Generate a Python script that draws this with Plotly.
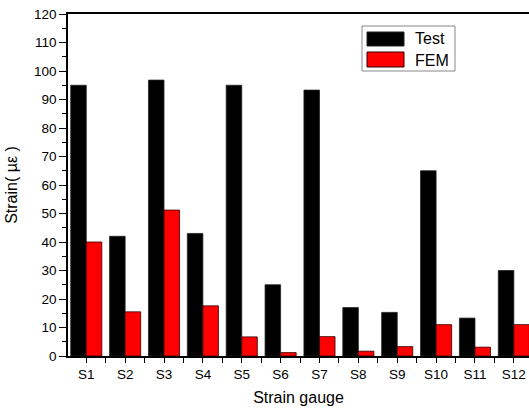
import plotly.graph_objects as go

categories = ["S1", "S2", "S3", "S4", "S5", "S6", "S7", "S8", "S9", "S10", "S11", "S12"]
test_values = [95, 42, 96.8, 43, 95, 25, 93.3, 17, 15.3, 65, 13.3, 30]
fem_values = [40, 15.5, 51.2, 17.6, 6.7, 1.2, 6.8, 1.7, 3.3, 11, 3.1, 11]
y_ticks = list(range(0, 121, 10))

x_pos = list(range(len(categories)))

FONT = "Liberation Sans, Arial, sans-serif"
W, H = 529, 411
ML, MR, MT, MB = 68, 0, 14, 55

fig = go.Figure()
fig.add_trace(go.Bar(x=x_pos, y=test_values, name="Test",
                     marker=dict(color="black", line=dict(color="#222222", width=0.8))))
fig.add_trace(go.Bar(x=x_pos, y=fem_values, name="FEM",
                     marker=dict(color="#ff0000", line=dict(color="#300000", width=0.8))))

fig.update_layout(
    width=W, height=H,
    margin=dict(l=ML, r=MR, t=MT, b=MB),
    paper_bgcolor="white", plot_bgcolor="white",
    barmode="group", bargap=0.2, bargroupgap=0,
    showlegend=False,
    font=dict(family=FONT, color="black", size=13.5),
)

fig.update_xaxes(
    range=[-0.47, 11.39],
    tickvals=x_pos, ticktext=categories,
    ticks="outside", ticklen=5, tickwidth=1, tickcolor="black",
    minor=dict(tick0=0.5, dtick=1, ticks="outside", ticklen=5, tickwidth=1, tickcolor="black"),
    showline=True, linecolor="black", linewidth=1.5, mirror=True,
    showgrid=False, zeroline=False,
    tickfont=dict(size=13.5, family=FONT),
    title=dict(text="Strain gauge", font=dict(size=16, family=FONT), standoff=11),
)
fig.update_yaxes(
    range=[0, 120],
    tickvals=y_ticks,
    ticks="outside", ticklen=7, tickwidth=1, tickcolor="black",
    minor=dict(dtick=5, ticks="outside", ticklen=4, tickwidth=1, tickcolor="black"),
    showline=True, linecolor="black", linewidth=1.5, mirror=False,
    showgrid=False, zeroline=False,
    tickfont=dict(size=13.5, family=FONT),
    title=dict(text="Strain( µε )", font=dict(size=16, family=FONT), standoff=12),
)

# Custom legend box: paper coords are relative to the plot area
def px(x): return (x - ML) / (W - ML - MR)
def py(y): return 1 - (y - MT) / (H - MT - MB)

fig.add_shape(type="rect", xref="paper", yref="paper",
              x0=px(362), x1=px(455), y0=py(71), y1=py(26),
              line=dict(color="#888888", width=1), fillcolor="white")
fig.add_shape(type="rect", xref="paper", yref="paper",
              x0=px(367), x1=px(404), y0=py(46), y1=py(32),
              line=dict(color="#222222", width=1), fillcolor="black")
fig.add_shape(type="rect", xref="paper", yref="paper",
              x0=px(367), x1=px(404), y0=py(67), y1=py(52),
              line=dict(color="#300000", width=1), fillcolor="#ff0000")
fig.add_annotation(xref="paper", yref="paper", x=px(413), y=py(39),
                   text="Test", showarrow=False, xanchor="left", yanchor="middle",
                   font=dict(size=16, family=FONT, color="black"))
fig.add_annotation(xref="paper", yref="paper", x=px(413), y=py(60),
                   text="FEM", showarrow=False, xanchor="left", yanchor="middle",
                   font=dict(size=16, family=FONT, color="black"))

fig.write_html("out.html", config={"displayModeBar": False},
               post_script="document.body.style.margin='0';document.body.style.overflow='hidden';")
